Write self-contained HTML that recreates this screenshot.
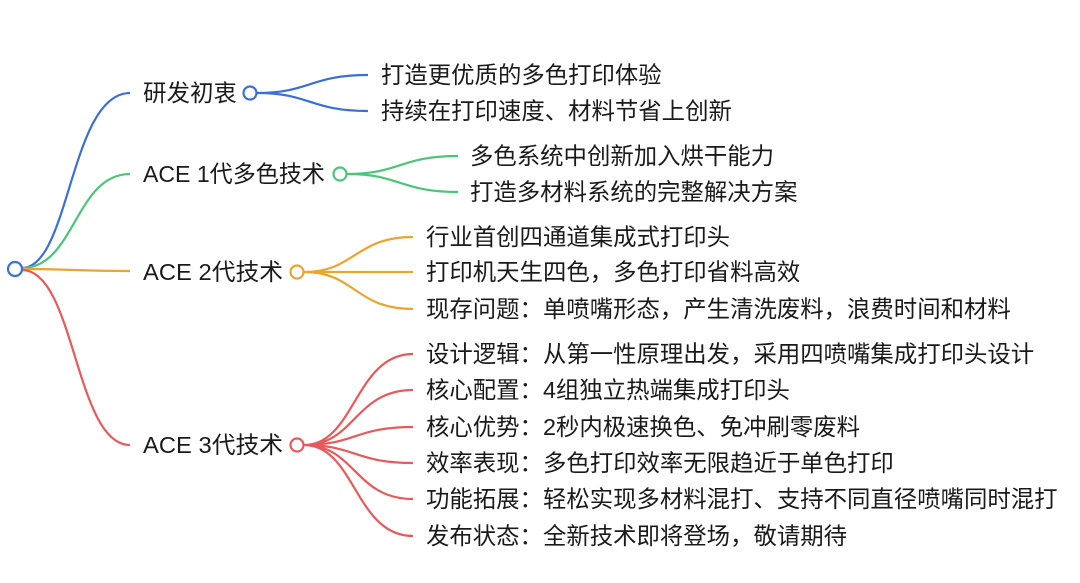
<!DOCTYPE html>
<html><head><meta charset="utf-8"><style>
body{margin:0;background:#fff;width:1080px;height:578px;overflow:hidden}
svg text{font-family:"Liberation Sans","Noto Sans CJK SC",sans-serif;font-size:23.4px;fill:#1a1a1a;dominant-baseline:central}
path{fill:none;stroke-width:2.2}
</style></head><body>
<svg width="1080" height="578" viewBox="0 0 1080 578">
<path d="M22,268 C70,268 70,93 130,93" stroke="#3b6fd4"/>
<path d="M22,268 C75,268 75,174 130,174" stroke="#4cc47a"/>
<path d="M22,269 C75,269 75,271 130,271" stroke="#eaa530"/>
<path d="M22,270 C75,270 75,445 130,445" stroke="#e55b5b"/>
<circle cx="15" cy="269" r="7" fill="#fff" stroke="#3b6fd4" stroke-width="2.2"/>

<text x="143" y="93" textLength="94" lengthAdjust="spacingAndGlyphs">研发初衷</text>
<circle cx="250" cy="93" r="6.5" fill="#fff" stroke="#3b6fd4" stroke-width="2.2"/>
<path d="M257,93 C310,93 310,75 368,75 M257,93 C310,93 310,111 368,111" stroke="#3b6fd4"/>
<text x="381" y="75">打造更优质的多色打印体验</text>
<text x="381" y="111">持续在打印速度、材料节省上创新</text>

<text x="143" y="174" textLength="182" lengthAdjust="spacingAndGlyphs">ACE 1代多色技术</text>
<circle cx="340" cy="174" r="6.5" fill="#fff" stroke="#4cc47a" stroke-width="2.2"/>
<path d="M347,174 C400,174 400,156 458,156 M347,174 C400,174 400,192 458,192" stroke="#4cc47a"/>
<text x="470" y="156">多色系统中创新加入烘干能力</text>
<text x="470" y="192">打造多材料系统的完整解决方案</text>

<text x="143" y="272" textLength="140" lengthAdjust="spacingAndGlyphs">ACE 2代技术</text>
<circle cx="297" cy="272" r="6.5" fill="#fff" stroke="#eaa530" stroke-width="2.2"/>
<path d="M304,272 C355,272 355,237 413,237 M304,272 L413,272 M304,272 C355,272 355,309 413,309" stroke="#eaa530"/>
<text x="426" y="237">行业首创四通道集成式打印头</text>
<text x="426" y="272">打印机天生四色，多色打印省料高效</text>
<text x="426" y="309">现存问题：单喷嘴形态，产生清洗废料，浪费时间和材料</text>

<text x="143" y="445" textLength="140" lengthAdjust="spacingAndGlyphs">ACE 3代技术</text>
<circle cx="297" cy="445" r="6.5" fill="#fff" stroke="#e55b5b" stroke-width="2.2"/>
<path d="M304,445 C355,445 355,354 413,354 M304,445 C355,445 355,390 413,390 M304,445 C355,445 355,427 413,427 M304,445 C355,445 355,463 413,463 M304,445 C355,445 355,499 413,499 M304,445 C355,445 355,536 413,536" stroke="#e55b5b"/>
<text x="426" y="354">设计逻辑：从第一性原理出发，采用四喷嘴集成打印头设计</text>
<text x="426" y="390">核心配置：4组独立热端集成打印头</text>
<text x="426" y="427">核心优势：2秒内极速换色、免冲刷零废料</text>
<text x="426" y="463">效率表现：多色打印效率无限趋近于单色打印</text>
<text x="426" y="499">功能拓展：轻松实现多材料混打、支持不同直径喷嘴同时混打</text>
<text x="426" y="536">发布状态：全新技术即将登场，敬请期待</text>
</svg>
</body></html>
